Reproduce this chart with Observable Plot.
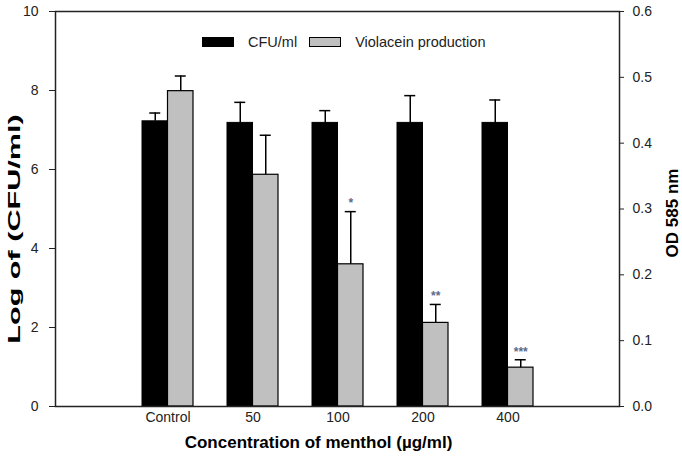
<!DOCTYPE html>
<html>
<head>
<meta charset="utf-8">
<script src="https://cdn.jsdelivr.net/npm/d3@7"></script>
<script src="https://cdn.jsdelivr.net/npm/@observablehq/plot@0.6"></script>
<style>
  html, body { margin: 0; padding: 0; background: #fff; }
  #chart { position: relative; width: 682px; height: 466px; font-family: "Liberation Sans", Arial, sans-serif; }
  #legend { position: absolute; left: 202px; top: 34px; display: flex; align-items: center; font-size: 14.5px; color: #222; white-space: nowrap; }
  #legend .sw { display: inline-block; width: 30px; height: 8px; border: 1px solid #000; }
  #legend .lab { margin-left: 14px; margin-right: 12px; }
</style>
</head>
<body>
<div id="chart"></div>
<script>
const categories = ["Control", "50", "100", "200", "400"];
const cfu = [7.22, 7.18, 7.18, 7.18, 7.18];
const cfuErr = [0.21, 0.52, 0.31, 0.69, 0.58];
const violacein = [0.479, 0.352, 0.216, 0.127, 0.059];
const violaceinErr = [0.023, 0.060, 0.080, 0.028, 0.012];
const significance = ["", "", "*", "**", "***"];
const leftTicks = [0, 2, 4, 6, 8, 10];
const rightTicks = [0, 0.1, 0.2, 0.3, 0.4, 0.5, 0.6];
const seriesNames = ["CFU/ml", "Violacein production"];
const seriesColors = ["#000000", "#c0c0c0"];

const k = 10 / 0.6; // right axis (OD) -> left axis units

const rows = categories.map((c, i) => ({
  cat: c,
  cfu: cfu[i],
  cfuTop: cfu[i] + cfuErr[i],
  vio: violacein[i] * k,
  vioTop: (violacein[i] + violaceinErr[i]) * k,
  star: significance[i]
}));

const half = 25.5, q = 12.75, capHalf = 5.5;

const plot = Plot.plot({
  width: 682,
  height: 466,
  marginLeft: 55,
  marginRight: 63,
  marginTop: 11,
  marginBottom: 60,
  style: { fontFamily: "Liberation Sans, Arial, sans-serif", fontSize: "14px", color: "#222", background: "#fff" },
  x: { type: "band", domain: categories, paddingInner: 0.405, paddingOuter: 0.985, label: null },
  y: { domain: [0, 10], label: null },
  marks: [
    Plot.barY(rows, { x: "cat", y: "cfu", fill: seriesColors[0], stroke: "#000", strokeWidth: 1, insetRight: half }),
    Plot.barY(rows, { x: "cat", y: "vio", fill: seriesColors[1], stroke: "#000", strokeWidth: 1.2, insetLeft: half }),
    Plot.ruleX(rows, { x: "cat", y1: "cfu", y2: "cfuTop", dx: -q, stroke: "#000", strokeWidth: 1.5 }),
    Plot.tickY(rows, { x: "cat", y: "cfuTop", insetLeft: q - capHalf, insetRight: 2 * half - q - capHalf, stroke: "#000", strokeWidth: 1.5 }),
    Plot.ruleX(rows, { x: "cat", y1: "vio", y2: "vioTop", dx: q, stroke: "#000", strokeWidth: 1.5 }),
    Plot.tickY(rows, { x: "cat", y: "vioTop", insetLeft: 2 * half - q - capHalf, insetRight: q - capHalf, stroke: "#000", strokeWidth: 1.5 }),
    Plot.text(rows, { x: "cat", y: "vioTop", text: "star", dx: q, dy: -8, fill: "#5b6b8c", fontSize: 12, fontWeight: "bold" }),
    Plot.frame({ stroke: "#222", strokeWidth: 1.5 }),
    Plot.axisY(leftTicks, { anchor: "left", tickSize: 6, tickPadding: 11, fontSize: 14, label: null, stroke: "#222" }),
    Plot.axisY(rightTicks.map(v => v * k), { anchor: "right", tickSize: 4, tickPadding: 9, fontSize: 14, label: null, tickFormat: d => (d / k).toFixed(1), stroke: "#222" }),
    Plot.axisX({ tickSize: 0, tickPadding: 6, fontSize: 14, label: null }),
    Plot.text(["Log of (CFU/ml)"], { text: d => d, frameAnchor: "left", textAnchor: "middle", rotate: -90, dx: -41, dy: 20, fontWeight: "bold", fontSize: 17, fill: "#000" }),
    Plot.text(["OD 585 nm"], { text: d => d, frameAnchor: "right", textAnchor: "middle", rotate: -90, dx: 53, dy: 4, fontWeight: "bold", fontSize: 17, fill: "#000" }),
    Plot.text(["Concentration of menthol (\u00b5g/ml)"], { text: d => d, frameAnchor: "bottom", dx: -19, dy: 41, fontWeight: "bold", fontSize: 17, fill: "#000" })
  ]
});

// the reference's left axis title is drawn stretched along its length
d3.select(plot).selectAll("text")
  .filter(function () { return this.textContent === "Log of (CFU/ml)"; })
  .attr("transform", function () { return (this.getAttribute("transform") || "") + " scale(1.8,1)"; });

const chart = document.getElementById("chart");
chart.appendChild(plot);

const legend = d3.select(chart).append("div").attr("id", "legend");
seriesNames.forEach((name, i) => {
  legend.append("span").attr("class", "sw").style("background", seriesColors[i]);
  legend.append("span").attr("class", "lab").text(name);
});
</script>
</body>
</html>
